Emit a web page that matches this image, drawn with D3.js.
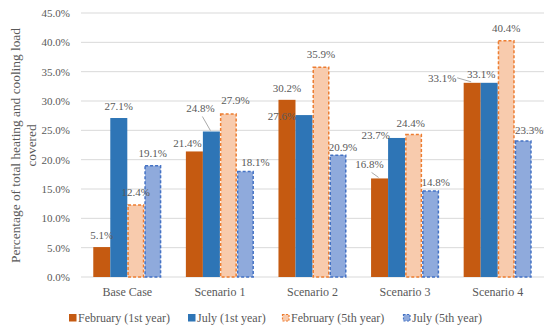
<!DOCTYPE html>
<html>
<head>
<meta charset="utf-8">
<script src="https://cdn.jsdelivr.net/npm/d3@7"></script>
<style>
  body { margin: 0; background: #fff; }
  text { font-family: "Liberation Serif", "DejaVu Serif", serif; fill: #595959; }
</style>
</head>
<body>
<svg id="chart"></svg>
<script>
const width = 550;
const height = 330;
const margin = { top: 13, right: 6, bottom: 53, left: 81 };

// data
const categories = ["Base Case", "Scenario 1", "Scenario 2", "Scenario 3", "Scenario 4"];
const seriesNames = ["February (1st year)", "July (1st year)", "February (5th year)", "July (5th year)"];
const febYear1 = [5.1, 21.4, 30.2, 16.8, 33.1];
const julYear1 = [27.1, 24.8, 27.6, 23.7, 33.1];
const febYear5 = [12.4, 27.9, 35.9, 24.4, 40.4];
const julYear5 = [19.1, 18.1, 20.9, 14.8, 23.3];
const yTicks = [0, 5, 10, 15, 20, 25, 30, 35, 40, 45];

// styling per series
const fills = ["#C55A11", "#2E75B6", "#F8CBAD", "#8FAADC"];
const strokes = [null, null, "#ED7D31", "#4472C4"];

// label nudges [dx, dy] per category, per series (to avoid overlaps like the original)
const labelNudge = [
  [[0, 0], [0, 0], [0, 0], [0, 0]],
  [[-7, 4], [-11, -11], [7, -1], [10, 3]],
  [[0, 0], [-22, 13], [0, 0], [5, 5]],
  [[-10, -2], [-21, 9], [-3, 1], [5, 4]],
  [[-30, 7], [-8, 3], [0, 0], [6, 2]]
];
const leaders = [[1, 1], [3, 0], [4, 0]]; // [category, series] that get a leader line

const values = [febYear1, julYear1, febYear5, julYear5];

const svg = d3.select("#chart")
  .attr("width", width)
  .attr("height", height)
  .attr("viewBox", [0, 0, width, height]);

const x0 = d3.scaleBand()
  .domain(categories)
  .range([margin.left, width - margin.right])
  .paddingInner(0.265)
  .paddingOuter(0.1325);

const x1 = d3.scaleBand()
  .domain(d3.range(seriesNames.length))
  .range([0, x0.bandwidth()]);

const y = d3.scaleLinear()
  .domain([0, 45])
  .range([height - margin.bottom, margin.top]);

// gridlines
svg.append("g")
  .selectAll("line")
  .data(yTicks)
  .join("line")
  .attr("x1", margin.left)
  .attr("x2", width - margin.right)
  .attr("y1", d => y(d))
  .attr("y2", d => y(d))
  .attr("stroke", "#d9d9d9")
  .attr("stroke-width", 1);

// y axis labels
svg.append("g")
  .selectAll("text")
  .data(yTicks)
  .join("text")
  .attr("x", margin.left - 11)
  .attr("y", d => y(d))
  .attr("dy", "0.35em")
  .attr("text-anchor", "end")
  .style("font-size", "11px")
  .text(d => d.toFixed(1) + "%");

// category labels
svg.append("g")
  .selectAll("text")
  .data(categories)
  .join("text")
  .attr("x", d => x0(d) + x0.bandwidth() / 2)
  .attr("y", height - margin.bottom + 19)
  .attr("text-anchor", "middle")
  .style("font-size", "12px")
  .text(d => d);

// bars
const cells = [];
categories.forEach((c, ci) => {
  values.forEach((arr, si) => {
    cells.push({ c, ci, si, v: arr[ci] });
  });
});

const barG = svg.append("g");
barG.selectAll("rect")
  .data(cells)
  .join("rect")
  .attr("x", d => x0(d.c) + x1(d.si) + (strokes[d.si] ? 0.75 : 0))
  .attr("y", d => y(d.v) + (strokes[d.si] ? 0.75 : 0))
  .attr("width", d => x1.bandwidth() - (strokes[d.si] ? 1.5 : 0))
  .attr("height", d => y(0) - y(d.v) - (strokes[d.si] ? 0.75 : 0))
  .attr("fill", d => fills[d.si])
  .attr("stroke", d => strokes[d.si] || "none")
  .attr("stroke-width", 1.5)
  .attr("stroke-dasharray", "3,2");

// value labels
const labelPos = d => {
  const n = labelNudge[d.ci][d.si];
  return {
    cx: x0(d.c) + x1(d.si) + x1.bandwidth() / 2 + n[0],
    cy: y(d.v) - 12 + n[1]
  };
};

svg.append("g")
  .selectAll("text")
  .data(cells)
  .join("text")
  .attr("x", d => labelPos(d).cx)
  .attr("y", d => labelPos(d).cy)
  .attr("dy", "0.35em")
  .attr("text-anchor", "middle")
  .style("font-size", "11px")
  .text(d => d.v.toFixed(1) + "%");

// leader lines
svg.append("g")
  .selectAll("line")
  .data(leaders.map(([ci, si]) => cells.find(d => d.ci === ci && d.si === si)))
  .join("line")
  .each(function(d) {
    const p = labelPos(d);
    const bx = x0(d.c) + x1(d.si) + x1.bandwidth() / 2;
    const by = y(d.v);
    let sx, sy;
    if (p.cx + 14 < bx - 5) { sx = p.cx + 15; sy = p.cy; }
    else { sx = p.cx + 2; sy = p.cy + 8; }
    d3.select(this)
      .attr("x1", sx).attr("y1", sy)
      .attr("x2", bx - 1).attr("y2", by - 1);
  })
  .attr("stroke", "#8c8c8c")
  .attr("stroke-width", 0.75);

// y axis title (first line sized to span ~235px like the original)
const title1 = svg.append("text")
  .attr("transform", `translate(19.5,145.5) rotate(-90)`)
  .attr("text-anchor", "middle")
  .style("font-size", "12.4px")
  .text("Percentage of total heating and cooling load");

const len = title1.node().getComputedTextLength();
const titleSize = len > 0 ? Math.min(13.5, 12.4 * 235 / len) : 12.4;
title1.style("font-size", titleSize + "px");

svg.append("text")
  .attr("transform", `translate(36,145.5) rotate(-90)`)
  .attr("text-anchor", "middle")
  .style("font-size", titleSize + "px")
  .text("covered");

// legend
const legendX = [69, 188, 282, 403];
const legend = svg.append("g")
  .selectAll("g")
  .data(seriesNames)
  .join("g")
  .attr("transform", (d, i) => `translate(${legendX[i]},314)`);

legend.append("rect")
  .attr("x", (d, i) => strokes[i] ? 0.5 : 0)
  .attr("y", (d, i) => strokes[i] ? 0.5 : 0)
  .attr("width", (d, i) => strokes[i] ? 6.5 : 7.5)
  .attr("height", (d, i) => strokes[i] ? 6.5 : 7.5)
  .attr("fill", (d, i) => fills[i])
  .attr("stroke", (d, i) => strokes[i] || "none")
  .attr("stroke-width", 1.2)
  .attr("stroke-dasharray", "2,1.5");

legend.append("text")
  .attr("x", 9)
  .attr("y", 4)
  .attr("dy", "0.35em")
  .style("font-size", "12px")
  .text(d => d);
</script>
</body>
</html>
